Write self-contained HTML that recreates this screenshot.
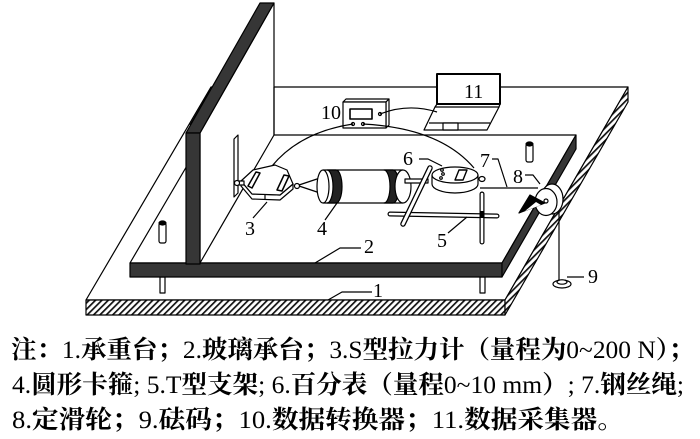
<!DOCTYPE html>
<html><head><meta charset="utf-8">
<style>
html,body{margin:0;padding:0;background:#fff;}
svg{display:block}
.lb{font-family:"Liberation Serif","Noto Serif CJK SC",serif;font-size:20px;fill:#000;stroke:none}
.cap{font-family:"Liberation Serif","Noto Serif CJK SC",serif;font-size:25px;font-weight:bold;fill:#000;stroke:none}
.n{font-weight:normal}
</style></head><body>
<svg width="700" height="439" viewBox="0 0 700 439" xmlns="http://www.w3.org/2000/svg">
<defs>
<pattern id="h" width="4.5" height="4.5" patternUnits="userSpaceOnUse" patternTransform="rotate(45)">
<rect width="4.5" height="4.5" fill="#fff"/><rect width="1.7" height="4.5" fill="#111"/>
</pattern>
</defs>
<g stroke="#000" stroke-width="1.2" fill="#fff" stroke-linejoin="round">
<!-- outer base (1) -->
<polygon points="211,87 628,87 505,300 86,300"/>
<rect x="86" y="300" width="419" height="15" fill="url(#h)"/>
<polygon points="628,87 628,102 505,315 505,300" fill="url(#h)"/>

<!-- legs -->
<rect x="160" y="277" width="5" height="16"/>
<rect x="480" y="277" width="5" height="16"/>

<!-- laptop (11) -->
<rect x="437" y="74" width="63" height="30" stroke-width="2"/>
<polygon points="435,107 499,107 487,130 424,130"/>
<line x1="437" y1="104" x2="435" y2="107"/>
<line x1="500" y1="104" x2="499" y2="107"/>
<line x1="429" y1="123" x2="490" y2="123"/>
<rect x="443" y="123" width="15" height="7"/>

<!-- converter (10) -->
<polygon points="343,102 346,99 389,99 386,102"/>
<polygon points="386,102 389,99 389,125 386,128"/>
<rect x="343" y="102" width="43" height="26"/>
<rect x="350" y="109" width="22" height="10" stroke-width="1.6"/>
<circle cx="353" cy="124" r="1.5"/>
<circle cx="363" cy="124" r="1.5"/>
<circle cx="380" cy="114" r="1.5"/>
<path d="M380,114 Q408,103 437,112" fill="none"/>

<!-- inner platform (2) -->
<polygon points="205,135 576,135 502,263 130,263"/>
<rect x="130" y="263" width="372" height="14" fill="#363636"/>
<polygon points="576,135 576,149 502,277 502,263" fill="#363636"/>

<!-- wall -->
<polygon points="274,3 274,135 200,263 200,133"/>
<line x1="274" y1="87" x2="274" y2="135"/>
<polygon points="260,3 274,3 200,133 186,133" fill="#363636"/>
<line x1="212" y1="87" x2="190" y2="125"/>
<rect x="186" y="133" width="14" height="131" fill="#363636"/>

<!-- pegs -->
<rect x="159" y="223" width="7" height="20" rx="2"/>
<ellipse cx="162.5" cy="223" rx="3.5" ry="2" fill="#000"/>
<rect x="526" y="144" width="7" height="18" rx="2"/>
<ellipse cx="529.5" cy="144" rx="3.5" ry="2" fill="#000"/>

<!-- rod near gauge -->
<polygon points="234,139 238,135 238,193 234,197"/>

<!-- wires from converter -->
<path d="M353,124 Q300,132 272,166" fill="none"/>
<path d="M363,124 Q440,128 474,168" fill="none"/>

<!-- S gauge (3) -->
<polygon points="241,181 252,194 280,195 293,184 293,189 280,200 252,199 241,186"/>
<polygon points="241,181 253,170 275,165 287,170 293,184 280,195 252,194"/>
<line x1="265" y1="195" x2="265" y2="200"/>
<polygon points="248,186 256,172 260,173 252,188" stroke-width="1.5"/>
<polygon points="277,190 284,175 289,176 282,191" stroke-width="1.5"/>
<rect x="236" y="181" width="8" height="4"/>
<circle cx="237" cy="183" r="2.5"/>
<circle cx="297" cy="186" r="2.5"/>
<line x1="299" y1="185" x2="320" y2="178"/>
<line x1="299" y1="186" x2="320" y2="193"/>

<!-- cylinder (4) -->
<rect x="323" y="170" width="80" height="33" stroke="none"/>
<line x1="323" y1="170" x2="403" y2="170"/>
<line x1="323" y1="203" x2="403" y2="203"/>
<ellipse cx="323" cy="186.5" rx="6" ry="16.5"/>
<path d="M327,170 A6 16.5 0 0 1 327,203 L336,203 A6 16.5 0 0 0 336,170 Z" fill="#222"/>
<path d="M384,170 A6 16.5 0 0 1 384,203 L393,203 A6 16.5 0 0 0 393,170 Z" fill="#222"/>
<ellipse cx="403" cy="186.5" rx="8" ry="16.5"/>
<rect x="405" y="179" width="23" height="4"/>

<!-- dial gauge (6) -->
<path d="M432,175 L432,184 A23 9 0 0 0 478,184 L478,175 Z"/>
<ellipse cx="455" cy="175" rx="23" ry="8"/>
<polygon points="455,180 459,170 467,170 463,180" stroke-width="1.4"/>
<circle cx="442" cy="170" r="1.3"/>
<circle cx="443" cy="174" r="1.3"/>
<circle cx="441" cy="178" r="1.3"/>
<ellipse cx="482" cy="179" rx="3" ry="2.5"/>

<!-- T frame (5) -->
<line x1="390" y1="214" x2="497" y2="216" stroke-width="5" stroke-linecap="round"/>
<line x1="390" y1="214" x2="497" y2="216" stroke="#fff" stroke-width="2.6" stroke-linecap="round"/>
<line x1="482" y1="194" x2="482" y2="242" stroke-width="5" stroke-linecap="round"/>
<line x1="482" y1="194" x2="482" y2="242" stroke="#fff" stroke-width="2.6" stroke-linecap="round"/>
<rect x="479.5" y="211" width="5" height="7" fill="#000" stroke="none"/>
<line x1="403" y1="224" x2="430" y2="168" stroke-width="5.5" stroke-linecap="round"/>
<line x1="403" y1="224" x2="430" y2="168" stroke="#fff" stroke-width="3" stroke-linecap="round"/>

<!-- steel wire (7) -->
<line x1="480" y1="188" x2="538" y2="188"/>

<!-- pulley (8) -->
<ellipse cx="552" cy="199" rx="11" ry="15"/>
<ellipse cx="546" cy="202" rx="11" ry="13.5"/>
<circle cx="546" cy="201" r="2"/>
<polygon points="519,213 530,195 545,203" fill="#000"/>
<polygon points="525,211 541,205 536,202" fill="#fff" stroke="none"/>
<line x1="559" y1="212" x2="559" y2="280"/>

<!-- weight (9) -->
<ellipse cx="562" cy="284" rx="9" ry="4"/>
<ellipse cx="562" cy="282" rx="5" ry="2.2"/>

<!-- leader lines -->
<g fill="none">
<polyline points="328,300 342,292 372,292"/>
<polyline points="315,263 340,248 361,248"/>
<line x1="253" y1="218" x2="267" y2="202"/>
<line x1="325" y1="220" x2="337" y2="203"/>
<line x1="448" y1="233" x2="467" y2="217"/>
<polyline points="419,159 428,159 442,166"/>
<polyline points="492,159 498,159 507,187"/>
<polyline points="525,175 533,175 540,184"/>
<line x1="567" y1="277" x2="584" y2="277"/>
</g>
</g>

<!-- labels -->
<text class="lb" x="321" y="119">10</text>
<text class="lb" x="464" y="98">11</text>
<text class="lb" x="403" y="165">6</text>
<text class="lb" x="480" y="167">7</text>
<text class="lb" x="513" y="183">8</text>
<text class="lb" x="588" y="283">9</text>
<text class="lb" x="437" y="247">5</text>
<text class="lb" x="364" y="253">2</text>
<text class="lb" x="373" y="297">1</text>
<text class="lb" x="245" y="235">3</text>
<text class="lb" x="317" y="235">4</text>

<!-- caption -->
<text class="cap" x="11" y="358" textLength="683" lengthAdjust="spacingAndGlyphs">注：<tspan class="n">1.</tspan>承重台；<tspan class="n">2.</tspan>玻璃承台；<tspan class="n">3.S</tspan>型拉力计（量程为<tspan class="n">0~200 N</tspan>）；</text>
<text class="cap" x="12" y="393" textLength="672" lengthAdjust="spacingAndGlyphs"><tspan class="n">4.</tspan>圆形卡箍<tspan class="n">; 5.T</tspan>型支架<tspan class="n">; 6.</tspan>百分表（量程<tspan class="n">0~10 mm</tspan>）<tspan class="n">; 7.</tspan>钢丝绳<tspan class="n">;</tspan></text>
<text class="cap" x="12" y="428" textLength="612" lengthAdjust="spacingAndGlyphs"><tspan class="n">8.</tspan>定滑轮；<tspan class="n">9.</tspan>砝码；<tspan class="n">10.</tspan>数据转换器；<tspan class="n">11.</tspan>数据采集器。</text>
</svg>
</body></html>
